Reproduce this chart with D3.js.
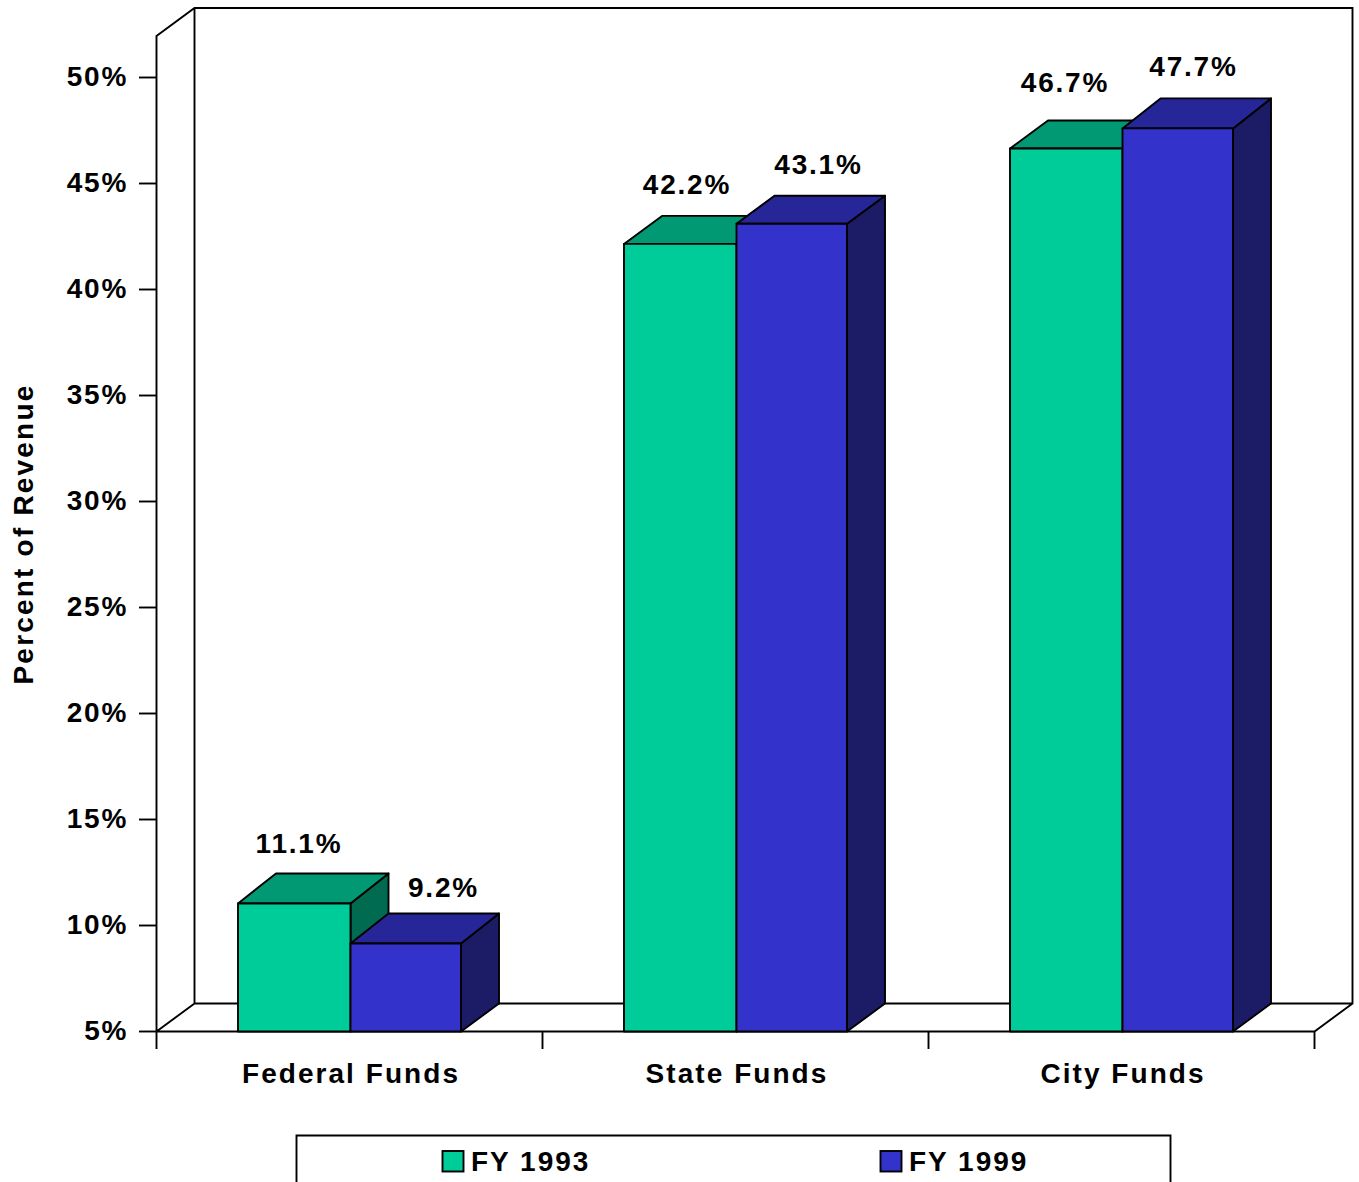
<!DOCTYPE html>
<html><head><meta charset="utf-8"><script src="https://cdn.jsdelivr.net/npm/d3@7"></script>
<style>html,body{margin:0;padding:0;background:#fff}svg{display:block}text{font-family:"Liberation Sans",Arial,sans-serif;font-weight:700;fill:#000}</style></head><body><div id="c"></div>
<script>
const categories=["Federal Funds","State Funds","City Funds"];
const seriesNames=["FY 1993","FY 1999"];
const labels1993=["11.1%","42.2%","46.7%"];
const labels1999=["9.2%","43.1%","47.7%"];
// bar heights
const fy1993=[11.04,42.15,46.65];
const fy1999=[9.15,43.1,47.6];
const yTicks=[5,10,15,20,25,30,35,40,45,50];
const colors=["#00CC99","#3333CC"],tops=["#009973","#262699"],sides=["#006B50","#1B1B66"];
const labelDx=[[61,93],[63,82],[55,71]],labelDy=[[50,47],[50,50],[57,52]],topDepth=[[30,30],[28,28],[28,30]];
const W=1359,H=1182,dx=38,dy=28,SW=1.9;
const svg=d3.select("#c").append("svg").attr("width",W).attr("height",H);
const y=d3.scaleLinear().domain([5,50]).range([1031.5,77.5]);
const x0=d3.scaleBand().domain(categories).range([156.5,1314.5]);
const ln=(a,b,c,d)=>svg.append("line").attr("x1",a).attr("y1",b).attr("x2",c).attr("y2",d).attr("stroke","#000").attr("stroke-width",SW);
const poly=(p,f)=>svg.append("polygon").attr("points",p.map(q=>q.join(",")).join(" ")).attr("fill",f).attr("stroke","#000").attr("stroke-width",SW).attr("stroke-linejoin","round");
const topY=8,backX=156.5+dx,backY=1031.5-dy,right=1314.5;
svg.append("path").attr("d",`M156.5,1031.5V36L${backX},${topY}H${right+dx}V${backY}L${right},1031.5H156.5M156.5,1031.5L${backX},${backY}V${topY}M${backX},${backY}H${right+dx}`).attr("fill","none").attr("stroke","#000").attr("stroke-width",SW);
yTicks.forEach(t=>{ln(139,y(t),156.5,y(t));
 svg.append("text").attr("x",128).attr("y",y(t)+8).attr("text-anchor","end").attr("font-size",28).attr("letter-spacing",1.7).text(t+"%");});
[0,1,2,3].forEach(i=>{const xx=156.5+i*x0.step();ln(xx,1031.5,xx,1049);});
categories.forEach(c=>svg.append("text").attr("x",x0(c)+x0.bandwidth()/2+1.5).attr("y",1083).attr("text-anchor","middle").attr("font-size",28).attr("letter-spacing",2.05).text(c));
svg.append("text").attr("transform","translate(33,534) rotate(-90)").attr("text-anchor","middle").attr("font-size",28).attr("letter-spacing",2.2).text("Percent of Revenue");
categories.forEach((c,i)=>{
 const left=x0(c)+81.5,wid=[112.5,110.5];
 [fy1993,fy1999].forEach((s,k)=>{
  const xa=left+(k?112.5:0),xb=xa+wid[k],yt=y(s[i]),yb=1031.5,d=topDepth[i][k];
  poly([[xb,yt],[xb+dx,yt-d],[xb+dx,yb-dy],[xb,yb]],sides[k]);
  poly([[xa,yt],[xa+dx,yt-d],[xb+dx,yt-d],[xb,yt]],tops[k]);
  poly([[xa,yt],[xb,yt],[xb,yb],[xa,yb]],colors[k]);
  svg.append("text").attr("x",xa+labelDx[i][k]).attr("y",yt-labelDy[i][k]).attr("text-anchor","middle").attr("font-size",28).attr("letter-spacing",1.8).text((k?labels1999:labels1993)[i]);
 });
});
svg.append("path").attr("d","M296.5,1182V1135.5H1170.5V1182").attr("fill","#fff").attr("stroke","#000").attr("stroke-width",SW);
[[442,471],[880,909]].forEach((p,k)=>{
 svg.append("rect").attr("x",p[0]+.5).attr("y",1151).attr("width",21).attr("height",20.5).attr("fill",colors[k]).attr("stroke","#000").attr("stroke-width",SW);
 svg.append("text").attr("x",p[1]).attr("y",1171).attr("font-size",28).attr("letter-spacing",2).text(seriesNames[k]);
});
</script></body></html>
